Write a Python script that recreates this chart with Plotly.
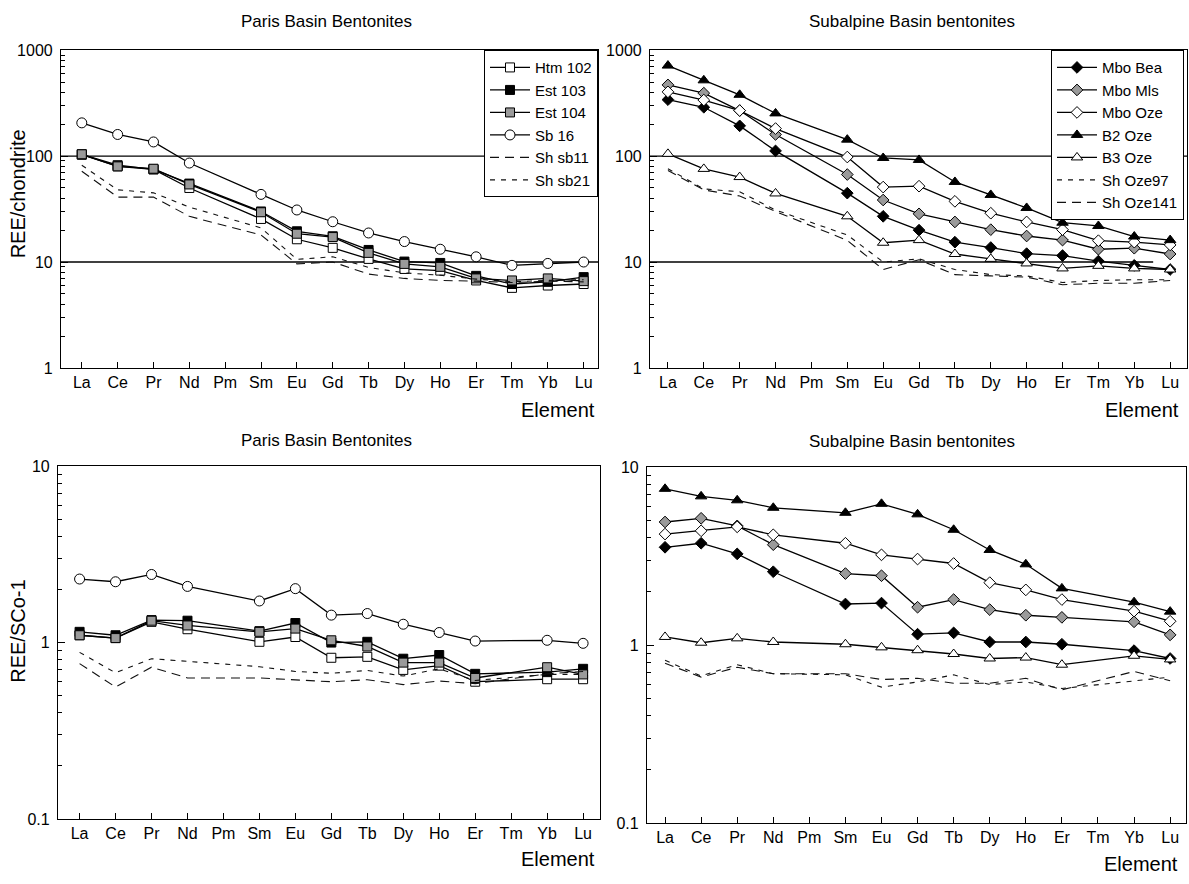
import plotly.graph_objects as go

# ---------------- data ----------------
elements = ["La", "Ce", "Pr", "Nd", "Pm", "Sm", "Eu", "Gd", "Tb", "Dy", "Ho", "Er", "Tm", "Yb", "Lu"]
N = None

# Paris Basin, chondrite-normalised
htm102_ch = [103, 80, 75, 50, N, 25.5, 16.4, 13.6, 10.7, 8.6, 8.3, 6.7, 5.7, 6.0, 6.2]
est103_ch = [104, 82, 75, 55, N, 30, 19.5, 17.5, 13.0, 10.1, 9.8, 7.4, 6.2, 6.5, 7.2]
est104_ch = [104, 80, 76, 54, N, 29.5, 18.5, 17.2, 12.2, 9.6, 9.0, 7.0, 6.7, 7.0, 6.6]
sb16_ch = [206, 160, 136, 86, N, 43.5, 31, 24, 18.8, 15.6, 13.2, 11.2, 9.3, 9.7, 10.0]
shsb11_ch = [72, 41, 41, 27, N, 18, 9.6, 10.0, 7.7, 7.0, 6.7, 6.6, 6.4, 6.6, 6.5]
shsb21_ch = [82, 48, 45, 33, N, 21, 10.6, 11.2, 8.9, 7.9, 7.5, 6.9, 6.5, 6.7, 6.8]

# Subalpine Basin, chondrite-normalised
mbobea_ch = [341, 289, 193, 112, N, 44.7, 27, 20, 15.4, 13.7, 12.0, 11.5, 10.2, 9.3, 8.5]
mbomls_ch = [470, 393, 269, 160, N, 67, 38.5, 28.5, 23.9, 20.2, 17.6, 16.1, 13.2, 13.5, 11.9]
mbooze_ch = [404, 338, 269, 182, N, 98, 51, 52, 37.4, 28.9, 23.9, 20.2, 15.9, 15.4, 14.5]
b2oze_ch = [715, 519, 379, 253, N, 143, 96, 92, 57, 43, 32.4, 23.5, 21.9, 17.4, 16.1]
b3oze_ch = [105, 75.7, 63.4, 44.4, N, 27, 15.2, 16.1, 11.9, 10.7, 9.7, 8.7, 9.2, 8.7, 8.5]
shoze97_ch = [76, 49, 46, 31, N, 18, 10.0, 10.7, 8.5, 7.6, 7.4, 6.4, 6.7, 6.8, 6.8]
shoze141_ch = [73, 48, 42, 30, N, 16, 8.5, 10.5, 7.6, 7.4, 7.2, 6.1, 6.3, 6.3, 6.7]

# Paris Basin, SCo-1 normalised
htm102_sco = [1.10, 1.06, 1.31, 1.19, N, 1.01, 1.075, 0.82, 0.83, 0.70, 0.74, 0.60, N, 0.62, 0.62]
est103_sco = [1.15, 1.10, 1.34, 1.33, N, 1.16, 1.29, 1.00, 1.01, 0.81, 0.85, 0.665, N, 0.68, 0.71]
est104_sco = [1.10, 1.06, 1.33, 1.25, N, 1.15, 1.20, 1.03, 0.95, 0.77, 0.77, 0.63, N, 0.725, 0.66]
sb16_sco = [2.29, 2.21, 2.43, 2.08, N, 1.72, 2.02, 1.43, 1.46, 1.27, 1.14, 1.02, N, 1.03, 0.99]
shsb11_sco = [0.76, 0.56, 0.725, 0.63, N, 0.63, 0.616, 0.60, 0.616, 0.578, 0.605, 0.585, N, 0.665, 0.686]
shsb21_sco = [0.88, 0.674, 0.81, 0.78, N, 0.73, 0.686, 0.67, 0.695, 0.646, 0.71, 0.61, N, 0.66, 0.66]

# Subalpine Basin, SCo-1 normalised
mbobea_sco = [3.54, 3.73, 3.25, 2.58, N, 1.70, 1.72, 1.15, 1.17, 1.04, 1.04, 1.01, N, 0.93, 0.84]
mbomls_sco = [4.91, 5.15, 4.67, 3.66, N, 2.52, 2.45, 1.63, 1.80, 1.58, 1.47, 1.43, N, 1.35, 1.14]
mbooze_sco = [4.20, 4.38, 4.61, 4.16, N, 3.73, 3.21, 3.04, 2.87, 2.24, 2.04, 1.80, N, 1.55, 1.36]
b2oze_sco = [7.54, 6.84, 6.50, 5.90, N, 5.53, 6.21, 5.42, 4.44, 3.42, 2.84, 2.08, N, 1.74, 1.54]
b3oze_sco = [1.11, 1.03, 1.09, 1.04, N, 1.01, 0.97, 0.935, 0.89, 0.84, 0.85, 0.775, N, 0.87, 0.83]
shoze97_sco = [0.82, 0.67, 0.775, 0.69, N, 0.68, 0.58, 0.62, 0.68, 0.60, 0.62, 0.57, N, 0.63, 0.66]
shoze141_sco = [0.79, 0.66, 0.75, 0.69, N, 0.69, 0.64, 0.65, 0.61, 0.61, 0.65, 0.56, N, 0.71, 0.63]

# ---------------- styling ----------------
W, H = 1189, 884
FONT = "Arial, Liberation Sans, Helvetica, sans-serif"
GRAY = "#9a9a9a"

def X(px):
    return px / W

def Y(py):
    return 1 - py / H

paris_series = [
    ("Htm 102", "square", "white", "solid", htm102_ch, htm102_sco),
    ("Est 103", "square", "black", "solid", est103_ch, est103_sco),
    ("Est 104", "square", GRAY, "solid", est104_ch, est104_sco),
    ("Sb 16", "circle", "white", "solid", sb16_ch, sb16_sco),
    ("Sh sb11", None, None, "9px,6px", shsb11_ch, shsb11_sco),
    ("Sh sb21", None, None, "5px,6px", shsb21_ch, shsb21_sco),
]
sub_series = [
    ("Mbo Bea", "diamond", "black", "solid", mbobea_ch, mbobea_sco),
    ("Mbo Mls", "diamond", GRAY, "solid", mbomls_ch, mbomls_sco),
    ("Mbo Oze", "diamond", "white", "solid", mbooze_ch, mbooze_sco),
    ("B2 Oze", "triangle-up", "black", "solid", b2oze_ch, b2oze_sco),
    ("B3 Oze", "triangle-up", "white", "solid", b3oze_ch, b3oze_sco),
    ("Sh Oze97", None, None, "5px,6px", shoze97_ch, shoze97_sco),
    ("Sh Oze141", None, None, "9px,6px", shoze141_ch, shoze141_sco),
]
MSIZE = {"square": 9, "circle": 10, "diamond": 9, "triangle-up": 10}

fig = go.Figure()

def add(series, xa, ya, idx, legend, showlegend):
    for name, sym, fill, dash, ch, sco in series:
        vals = ch if idx == 0 else sco
        if sym is None:
            fig.add_trace(go.Scatter(
                x=elements, y=vals, name=name, mode="lines",
                line=dict(color="#111", width=1.1, dash=dash),
                connectgaps=True, xaxis=xa, yaxis=ya,
                legend=legend, showlegend=showlegend))
        else:
            fig.add_trace(go.Scatter(
                x=elements, y=vals, name=name, mode="lines+markers",
                line=dict(color="black", width=1.3),
                marker=dict(symbol=sym, size=MSIZE[sym], color=fill,
                            line=dict(color="black", width=1)),
                connectgaps=True, xaxis=xa, yaxis=ya,
                legend=legend, showlegend=showlegend))

add(paris_series, "x", "y", 0, "legend", True)
add(sub_series, "x2", "y2", 0, "legend2", True)
add(paris_series, "x3", "y3", 1, "legend", False)
add(sub_series, "x4", "y4", 1, "legend2", False)

panels = [
    # (x-dom px, y-dom px, x-range, log y-range, tickvals, ticktext)
    ((61, 598), (43, 367), [-0.58, 14.4], [0, 3], [1, 10, 100, 1000], ["1", "10", "100", "1000"]),
    ((650, 1187), (43, 367), [-0.5, 14.47], [0, 3], [1, 10, 100, 1000], ["1", "10", "100", "1000"]),
    ((58, 600), (467, 827), [-0.6, 14.47], [-1, 1], [0.1, 1, 10], ["0.1", "1", "10"]),
    ((647, 1186), (468, 831), [-0.5, 14.44], [-1, 1], [0.1, 1, 10], ["0.1", "1", "10"]),
]

layout = {}
for i, (xd, yd, xr, yr, tv, tt) in enumerate(panels):
    sfx = "" if i == 0 else str(i + 1)
    layout["xaxis" + sfx] = dict(
        domain=[X(xd[0]), X(xd[1])], anchor="y" + sfx,
        type="category", categoryorder="array", categoryarray=elements,
        range=xr, showgrid=False, zeroline=False,
        showline=True, linecolor="black", linewidth=1.2, mirror=True,
        ticks="inside", ticklen=6, tickcolor="black", tickwidth=1,
        tickfont=dict(size=16, color="black", family=FONT),
    )
    layout["yaxis" + sfx] = dict(
        domain=[Y(yd[1]), Y(yd[0])], anchor="x" + sfx,
        type="log", range=yr, tickvals=tv, ticktext=tt,
        showgrid=False, zeroline=False,
        showline=True, linecolor="black", linewidth=1.2, mirror=True,
        ticks="inside", ticklen=7, tickcolor="black", tickwidth=1,
        minor=dict(ticks="inside", ticklen=4, tickcolor="black", dtick="D1", showgrid=False),
        tickfont=dict(size=16, color="black", family=FONT),
        ticklabelstandoff=4,
    )

# horizontal reference lines at 10 and 100 in the chondrite panels
ref_levels = [10, 100]
shapes = []
for lvl in ref_levels:
    shapes.append(dict(type="line", xref="x domain", yref="y", x0=0, x1=1, y0=lvl, y1=lvl,
                       line=dict(color="black", width=1.3), layer="below"))
    shapes.append(dict(type="line", xref="x2 domain", yref="y2", x0=0,
                       x1=(1 if lvl == 100 else 0.937), y0=lvl, y1=lvl,
                       line=dict(color="black", width=1.3), layer="below"))

annotations = []
def note(text, x, y, size, xanchor="center", angle=0):
    annotations.append(dict(text=text, x=X(x), y=Y(y), xref="paper", yref="paper",
                            showarrow=False, xanchor=xanchor, yanchor="middle",
                            textangle=angle, font=dict(size=size, color="black", family=FONT)))

note("Paris Basin Bentonites", 326, 14, 17)
note("Subalpine Basin bentonites", 912, 14, 17)
note("Paris Basin Bentonites", 326, 441, 17)
note("Subalpine Basin bentonites", 912, 442, 17)
note("Element", 597, 410, 20, "right")
note("Element", 1181, 410, 20, "right")
note("Element", 597, 868, 20, "right")
note("Element", 1180, 873, 20, "right")
note("REE/chondrite", 18, 190, 20, angle=-90)
note("REE/SCo-1", 18, 636, 20, angle=-90)

legend_common = dict(
    xanchor="right", yanchor="top",
    bgcolor="white", bordercolor="black", borderwidth=1,
    font=dict(size=15, family=FONT, color="black"),
    tracegroupgap=0, itemwidth=40,
)

fig.update_layout(
    width=W, height=H,
    margin=dict(l=0, r=0, t=0, b=0),
    paper_bgcolor="white", plot_bgcolor="white",
    font=dict(family=FONT, color="black"),
    annotations=annotations,
    shapes=shapes,
    legend=dict(x=X(598), y=Y(43), **legend_common),
    legend2=dict(x=X(1184), y=Y(43), **legend_common),
    showlegend=True,
    **layout,
)

fig.write_html(
    "out.html",
    config={"displayModeBar": False},
    post_script="document.body.style.margin='0';document.body.style.overflow='hidden';",
)
